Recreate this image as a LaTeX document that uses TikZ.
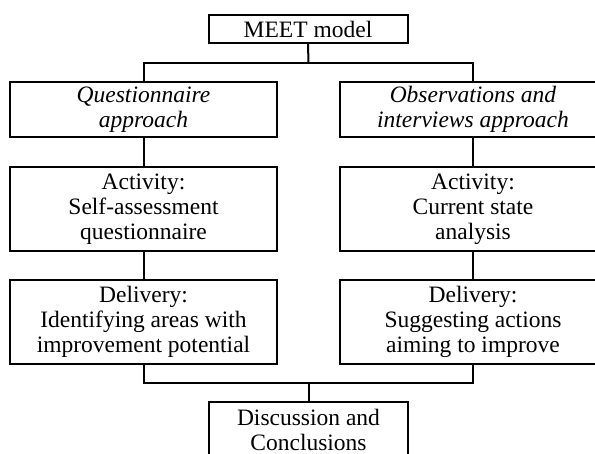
\documentclass[tikz,border=0pt]{standalone}
\usepackage{fontspec}
\setmainfont{Liberation Serif}
\begin{document}
\begin{tikzpicture}[x=1pt,y=-1pt,
  box/.style={draw,line width=2pt,inner sep=0pt,align=center,
    font=\fontsize{23.5}{25}\selectfont},
  wbox/.style={box,minimum width=267pt},
  conn/.style={line width=2pt}]
\useasboundingbox (0,0) rectangle (595,453);
\clip (0,0) rectangle (595,453);
\node[box,minimum width=199pt,minimum height=28pt] (meet) at (308,29) {MEET model};
\node[wbox,minimum height=55pt,font=\fontsize{23.5}{25}\selectfont\itshape] (qa) at (143.5,109.5) {Questionnaire\\approach};
\node[wbox,minimum height=55pt,font=\fontsize{23.5}{25}\selectfont\itshape] (oa) at (473,109.5) {Observations and\\interviews approach};
\node[wbox,minimum height=84pt] (a1) at (143.5,209) {Activity:\\Self-assessment\\questionnaire};
\node[wbox,minimum height=84pt] (a2) at (473,209) {Activity:\\Current state\\analysis};
\node[wbox,minimum height=84pt] (d1) at (143.5,322) {Delivery:\\Identifying areas with\\improvement potential};
\node[wbox,minimum height=84pt] (d2) at (473,322) {Delivery:\\Suggesting actions\\aiming to improve};
\node[box,minimum width=199pt,minimum height=55pt] (disc) at (308.5,429.5) {Discussion and\\Conclusions};
\coordinate (j1) at (308.5,63);
\coordinate (j2) at (308.5,383);
\draw[conn] (meet.south) -- (j1);
\draw[conn] (qa.north) |- (j1) -| (oa.north);
\draw[conn] (qa.south) -- (a1.north);
\draw[conn] (oa.south) -- (a2.north);
\draw[conn] (a1.south) -- (d1.north);
\draw[conn] (a2.south) -- (d2.north);
\draw[conn] (d1.south) |- (j2) -| (d2.south);
\draw[conn] (j2) -- (disc.north);
\end{tikzpicture}
\end{document}
